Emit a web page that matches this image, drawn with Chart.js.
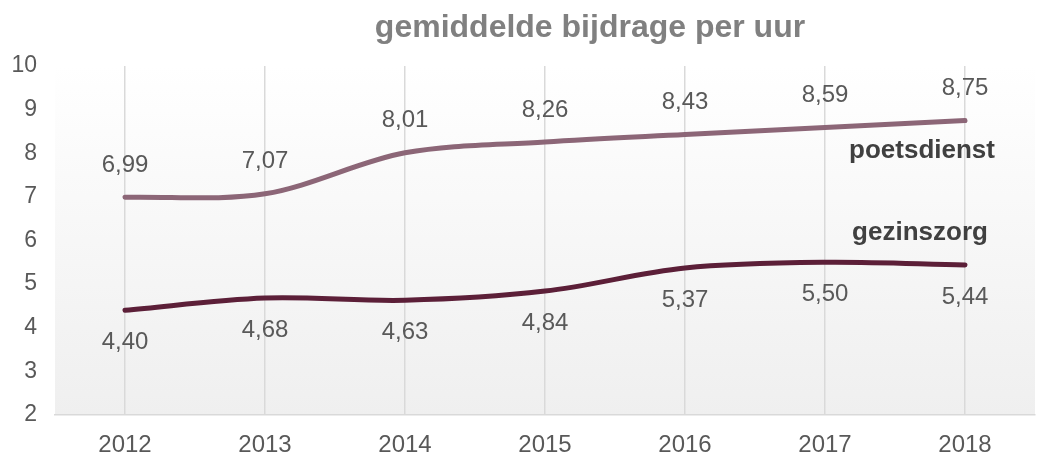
<!DOCTYPE html>
<html>
<head>
<meta charset="utf-8">
<script src="https://cdn.jsdelivr.net/npm/chart.js@4"></script>
<style>
  html, body { margin: 0; padding: 0; background: #fff; }
  #wrap { width: 1038px; height: 460px; position: relative; }
</style>
</head>
<body>
<div id="wrap"><canvas id="chart"></canvas></div>
<script>
const years = ['2012', '2013', '2014', '2015', '2016', '2017', '2018']
const poetsdienst = [6.99, 7.07, 8.01, 8.26, 8.43, 8.59, 8.75]
const gezinszorg = [4.40, 4.68, 4.63, 4.84, 5.37, 5.50, 5.44]

const titleText = 'gemiddelde bijdrage per uur'
const textGray = '#595959'
const fontFam = '"Liberation Sans", Arial, sans-serif'

// achtergrond van de plot: verloop wit -> lichtgrijs
const bgPlugin = {
  id: 'bg',
  beforeDraw(chart) {
    const { ctx, chartArea: a } = chart
    const g = ctx.createLinearGradient(0, a.top, 0, a.bottom)
    g.addColorStop(0, '#ffffff')
    g.addColorStop(1, '#efefef')
    ctx.save()
    ctx.fillStyle = g
    ctx.fillRect(a.left, a.top, a.right - a.left, a.bottom - a.top)
    ctx.restore()
  }
}

// waardelabels + reeksnamen + titel
const labelPlugin = {
  id: 'labels',
  afterDatasetsDraw(chart) {
    const ctx = chart.ctx
    ctx.save()
    ctx.font = '24px ' + fontFam
    ctx.fillStyle = textGray
    ctx.textAlign = 'center'
    ctx.textBaseline = 'middle'
    chart.data.datasets.forEach((ds, di) => {
      const meta = chart.getDatasetMeta(di)
      meta.data.forEach((pt, i) => {
        const off = di === 0 ? -32 : 32
        ctx.fillText(ds.data[i].toFixed(2).replace('.', ','), pt.x, pt.y + off)
      })
    })
    ctx.font = 'bold 26px ' + fontFam
    ctx.fillStyle = '#404040'
    ctx.fillText('poetsdienst', 922, 151)
    ctx.fillText('gezinszorg', 920, 233)

    ctx.font = 'bold 32px ' + fontFam
    ctx.fillStyle = '#808080'
    ctx.fillText(titleText, 590, 28)
    ctx.restore()
  }
}

new Chart(document.getElementById('chart'), {
  type: 'line',
  data: {
    labels: years,
    datasets: [
      {
        label: 'poetsdienst',
        data: poetsdienst,
        borderColor: '#8c6677',
        borderWidth: 5,
        tension: 0.33,
        pointRadius: 0,
        borderCapStyle: 'round'
      },
      {
        label: 'gezinszorg',
        data: gezinszorg,
        borderColor: '#5c1f38',
        borderWidth: 5,
        tension: 0.33,
        pointRadius: 0,
        borderCapStyle: 'round'
      }
    ]
  },
  options: {
    responsive: true,
    maintainAspectRatio: false,
    animation: false,
    layout: { padding: { top: 66, right: 3, left: 0, bottom: 0 } },
    plugins: {
      legend: { display: false },
      title: { display: false },
      tooltip: { enabled: false }
    },
    scales: {
      x: {
        offset: true,
        grid: {
          offset: false,
          color: '#d9d9d9',
          lineWidth: 1.5,
          drawTicks: false
        },
        border: { color: '#d9d9d9', width: 1.5 },
        ticks: {
          color: textGray,
          font: { size: 24, family: fontFam },
          padding: 16
        },
        afterFit(scale) { scale.height = 45 }
      },
      y: {
        min: 2,
        max: 10,
        grid: { display: false, drawTicks: false },
        border: { display: false },
        ticks: {
          stepSize: 1,
          color: textGray,
          font: { size: 23, family: fontFam },
          padding: 18
        },
        afterFit(scale) { scale.width = 55 }
      }
    }
  },
  plugins: [bgPlugin, labelPlugin]
})
</script>
</body>
</html>
